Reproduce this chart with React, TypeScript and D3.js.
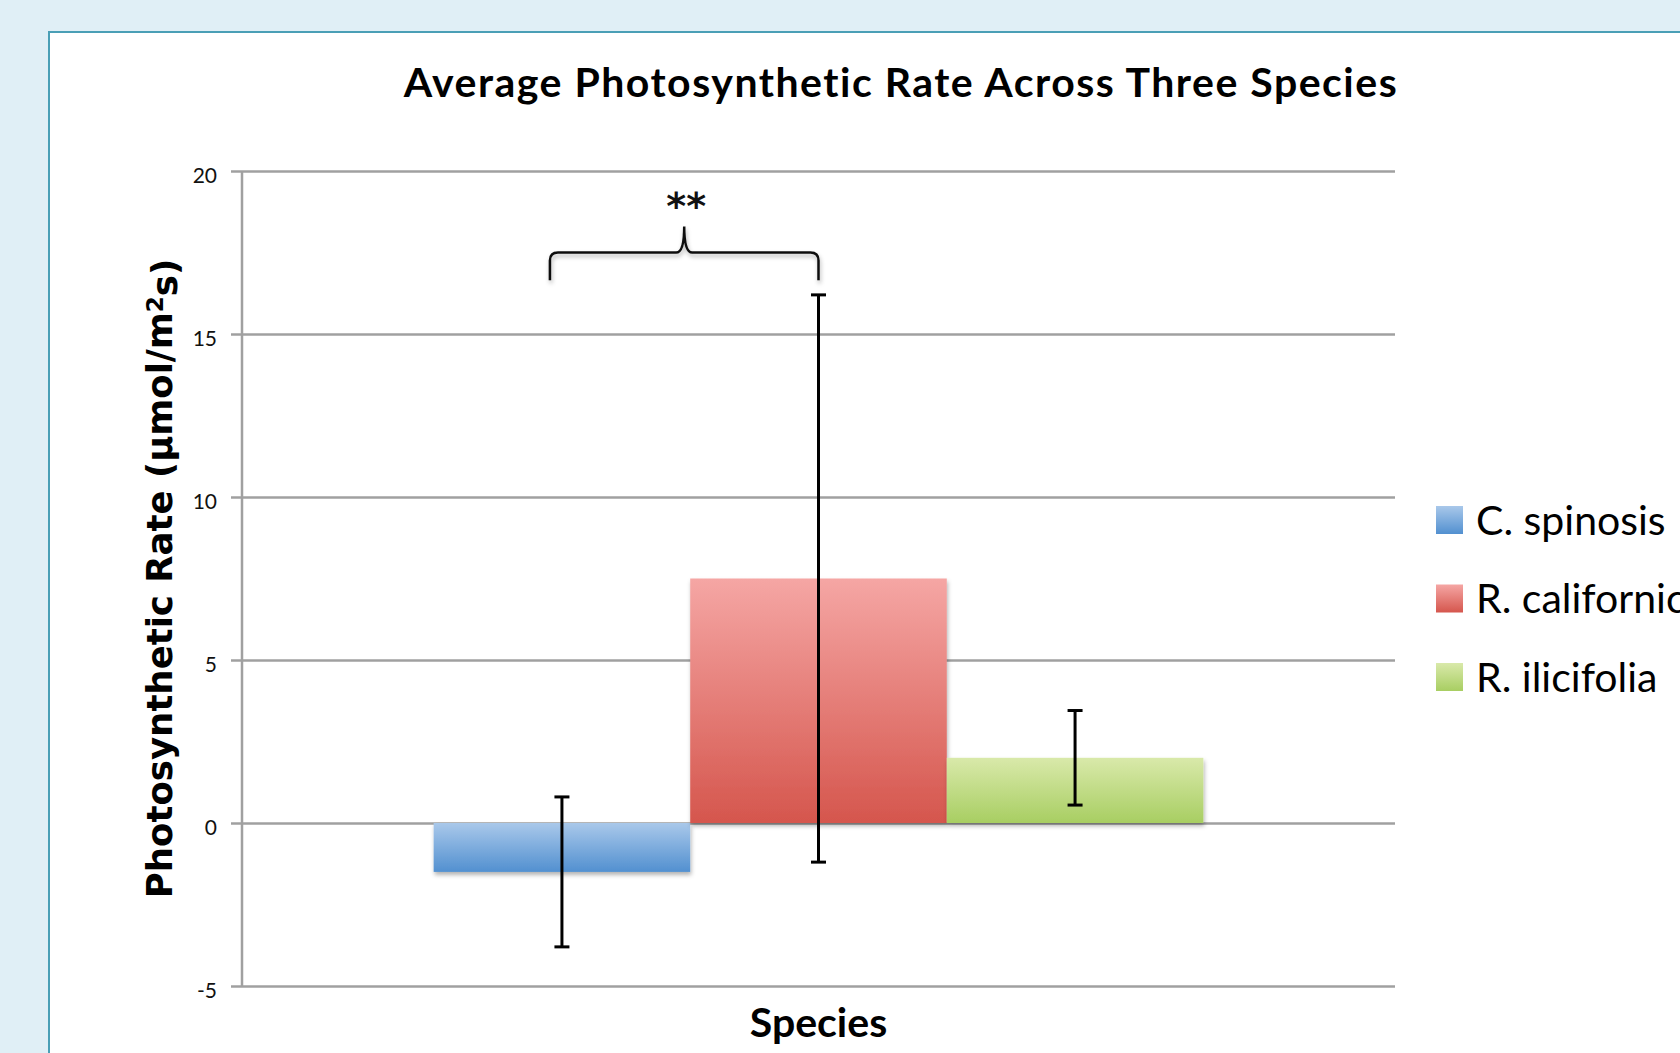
import React, { useRef, useEffect } from 'react';
import * as d3 from 'd3';

// Data
const species = ['C. spinosis', 'R. californica', 'R. ilicifolia'];
const means = [-1.5, 7.5, 2.0];
const errors = [2.3, 8.7, 1.45];
const yTicks = [-5, 0, 5, 10, 15, 20];
const topColors = ['#a9c8ea', '#f5a6a4', '#d9e9aa'];
const bottomColors = ['#5290d0', '#d5564d', '#a8ce62'];

// significance bracket between the first two species
const braceFrom = 0;
const braceTo = 1;
const braceLevel = 17.5;
const braceEnds = 16.65;
const braceTip = 18.3;
const braceLabel = '**';
const braceLabelLevel = 19.25;

const W = 1680;
const H = 1053;
const font = 'Lato, "Open Sans", sans-serif';
const wideFont = '"DejaVu Sans", Verdana, sans-serif';

const App: React.FC = () => {
	const svgRef = useRef<SVGSVGElement | null>(null);

	const marginLeft = 242;
	const plotRight = 1395;
	const plotTop = 171;
	const plotBottom = 986;

	useEffect(() => {
		document.body.style.margin = '0';
		if (!svgRef.current) return;
		const svg = d3.select(svgRef.current)
			.attr('width', W)
			.attr('height', H)
			.attr('viewBox', [0, 0, W, H].join(' '))
			.style('display', 'block');

		// background and white panel
		svg.append('rect').attr('width', W).attr('height', H).attr('fill', '#e0eff6');
		svg.append('rect')
			.attr('x', 49).attr('y', 32)
			.attr('width', W).attr('height', H)
			.attr('fill', '#ffffff')
			.attr('stroke', '#4a9fb6')
			.attr('stroke-width', 2);

		const defs = svg.append('defs');
		species.forEach((_, i) => {
			const g = defs.append('linearGradient')
				.attr('id', `grad${i}`)
				.attr('x1', 0).attr('y1', 0).attr('x2', 0).attr('y2', 1);
			g.append('stop').attr('offset', '0%').attr('stop-color', topColors[i]);
			g.append('stop').attr('offset', '100%').attr('stop-color', bottomColors[i]);
		});
		const shadow = defs.append('filter').attr('id', 'shadow')
			.attr('x', '-10%').attr('y', '-10%').attr('width', '130%').attr('height', '130%');
		shadow.append('feDropShadow')
			.attr('dx', 1).attr('dy', 3).attr('stdDeviation', 2)
			.attr('flood-color', '#000').attr('flood-opacity', 0.3);

		const y = d3.scaleLinear().domain([-5, 20]).range([plotBottom, plotTop]);

		const group = d3.scaleBand<string>()
			.domain(['Species'])
			.range([marginLeft, plotRight])
			.paddingInner(0)
			.paddingOuter(0.249);

		const x = d3.scaleBand<string>()
			.domain(species)
			.range([group('Species') as number, (group('Species') as number) + group.bandwidth()])
			.padding(0);

		// y-axis with gridlines
		svg.append('g')
			.attr('transform', `translate(${marginLeft},0)`)
			.call(d3.axisLeft(y).tickValues(yTicks).tickSize(11).tickPadding(14).tickFormat(d => String(d)))
			.call(g => g.select('.domain').attr('stroke', '#a0a0a0').attr('stroke-width', 2.5)
				.attr('d', `M0,${plotTop}V${plotBottom}`))
			.call(g => g.selectAll('.tick line').attr('stroke', '#a0a0a0').attr('stroke-width', 2.5))
			.call(g => g.selectAll('.tick').append('line')
				.attr('x1', 0)
				.attr('x2', plotRight - marginLeft)
				.attr('stroke', '#a0a0a0')
				.attr('stroke-width', 2.5))
			.call(g => g.selectAll('.tick text')
				.attr('font-family', font)
				.attr('font-size', 21)
				.attr('fill', '#111')
				.attr('dy', '0.55em'));

		// bars
		svg.append('g')
			.selectAll('rect')
			.data(species)
			.join('rect')
			.attr('x', d => x(d) as number)
			.attr('width', x.bandwidth())
			.attr('y', (_, i) => y(Math.max(0, means[i])))
			.attr('height', (_, i) => Math.abs(y(means[i]) - y(0)))
			.attr('fill', (_, i) => `url(#grad${i})`)
			.attr('filter', 'url(#shadow)');

		// error bars
		const cap = 7.5;
		const eb = svg.append('g')
			.attr('stroke', '#000')
			.attr('stroke-width', 3)
			.selectAll('g')
			.data(species)
			.join('g')
			.attr('transform', d => `translate(${(x(d) as number) + x.bandwidth() / 2},0)`);
		eb.append('line')
			.attr('y1', (_, i) => y(means[i] + errors[i]))
			.attr('y2', (_, i) => y(means[i] - errors[i]));
		eb.append('line')
			.attr('x1', -cap).attr('x2', cap)
			.attr('y1', (_, i) => y(means[i] + errors[i]))
			.attr('y2', (_, i) => y(means[i] + errors[i]));
		eb.append('line')
			.attr('x1', -cap).attr('x2', cap)
			.attr('y1', (_, i) => y(means[i] - errors[i]))
			.attr('y2', (_, i) => y(means[i] - errors[i]));

		// significance brace
		const bx0 = (x(species[braceFrom]) as number) + x.bandwidth() / 2 - 12;
		const bx1 = (x(species[braceTo]) as number) + x.bandwidth() / 2;
		const bm = (bx0 + bx1) / 2;
		const yl = y(braceLevel);
		const ye = y(braceEnds);
		const yt = y(braceTip);
		const r = 8;
		const bracePath = [
			`M${bx0},${ye}`,
			`V${yl + r}`,
			`Q${bx0},${yl} ${bx0 + r},${yl}`,
			`H${bm - r}`,
			`Q${bm},${yl} ${bm},${yt}`,
			`Q${bm},${yl} ${bm + r},${yl}`,
			`H${bx1 - r}`,
			`Q${bx1},${yl} ${bx1},${yl + r}`,
			`V${ye}`,
		].join(' ');
		svg.append('path')
			.attr('d', bracePath)
			.attr('fill', 'none')
			.attr('stroke', '#111')
			.attr('stroke-width', 2.5)
			.attr('filter', 'url(#shadow)');
		svg.append('text')
			.attr('x', bm + 2)
			.attr('y', y(braceLabelLevel))
			.attr('dy', '0.62em')
			.attr('text-anchor', 'middle')
			.attr('font-family', wideFont)
			.attr('font-weight', 'bold')
			.attr('font-size', 38)
			.attr('fill', '#111')
			.text(braceLabel);

		// title
		svg.append('text')
			.attr('x', 901)
			.attr('y', 97)
			.attr('text-anchor', 'middle')
			.attr('font-family', font)
			.attr('font-weight', 'bold')
			.attr('font-size', 41)
			.attr('letter-spacing', 1.5)
			.attr('fill', '#000')
			.text('Average Photosynthetic Rate Across Three Species');

		// axis titles
		svg.append('text')
			.attr('x', (group('Species') as number) + group.bandwidth() / 2)
			.attr('y', 1037)
			.attr('text-anchor', 'middle')
			.attr('font-family', font)
			.attr('font-weight', 'bold')
			.attr('font-size', 41)
			.attr('fill', '#000')
			.text('Species');

		const yTitle = svg.append('text')
			.attr('transform', `translate(172,${(plotTop + plotBottom) / 2}) rotate(-90)`)
			.attr('text-anchor', 'middle')
			.attr('font-family', wideFont)
			.attr('font-weight', 'bold')
			.attr('font-size', 35.5)
			.attr('fill', '#000');
		yTitle.append('tspan').text('Photosynthetic Rate (µmol/m');
		yTitle.append('tspan').attr('dy', '-0.4em').attr('font-size', 23).text('2');
		yTitle.append('tspan').attr('dy', '0.4em').text('s)');

		// legend
		const legend = svg.append('g')
			.selectAll('g')
			.data(species)
			.join('g')
			.attr('transform', (_, i) => `translate(1436,${520 + i * 78.5})`);
		legend.append('rect')
			.attr('x', 0).attr('y', -14)
			.attr('width', 27).attr('height', 28)
			.attr('fill', (_, i) => `url(#grad${i})`);
		legend.append('text')
			.attr('x', 40)
			.attr('dy', '0.36em')
			.attr('font-family', font)
			.attr('font-size', 41)
			.attr('fill', '#000')
			.text(d => d);

		return () => { svg.selectAll('*').remove(); };
	}, []);

	return (<svg ref={svgRef} />);
};

export default App;
